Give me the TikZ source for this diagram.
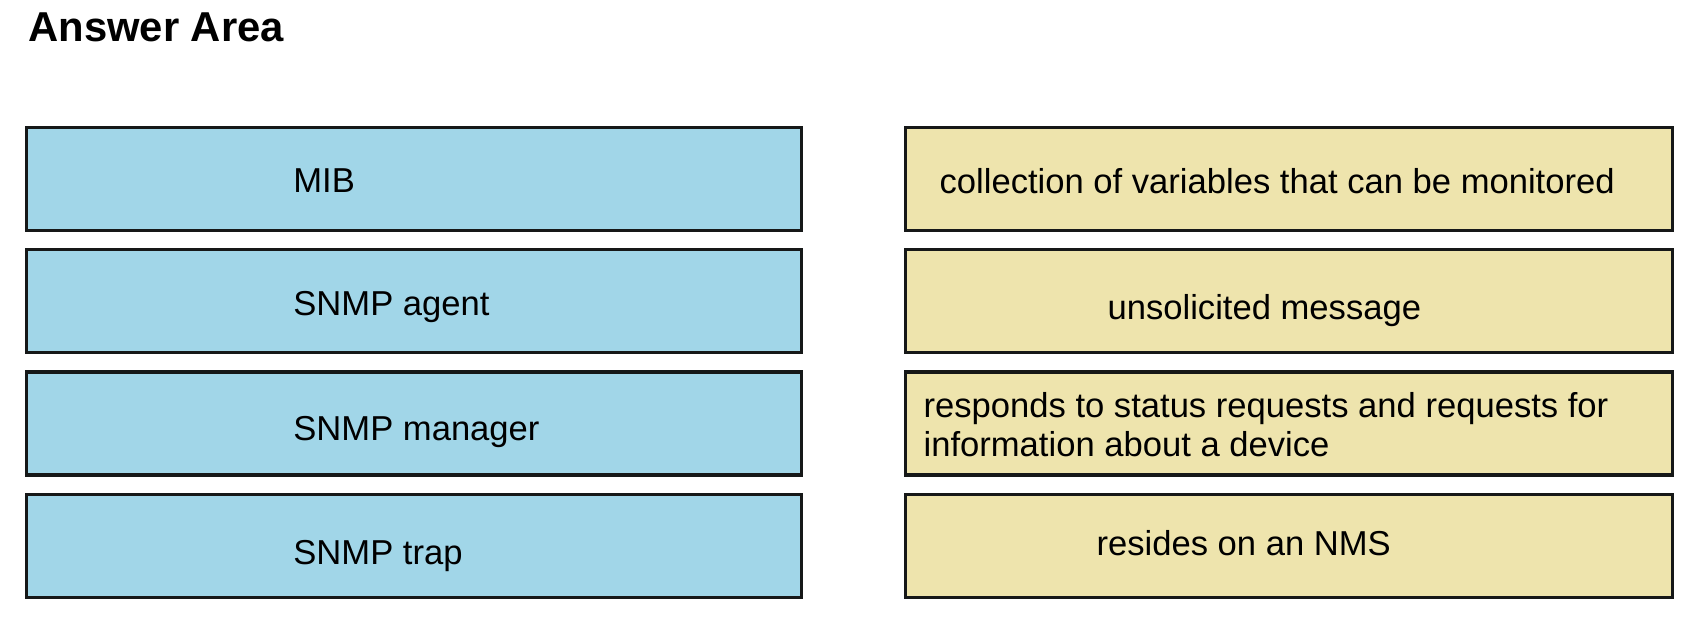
\documentclass[tikz,border=0pt]{standalone}
\usepackage{fontspec}
\setmainfont{Liberation Sans}
\usetikzlibrary{positioning}
\definecolor{termblue}{RGB}{161,214,232}
\definecolor{defyellow}{RGB}{238,228,173}
\definecolor{edge}{RGB}{22,24,24}

\begin{document}
\begin{tikzpicture}[
    node distance=8pt,
    term/.style={rectangle,draw=edge,line width=1.6pt,minimum width=387.5pt,minimum height=51.5pt,inner sep=0pt,fill=termblue},
    defn/.style={rectangle,draw=edge,line width=1.6pt,minimum width=383.5pt,minimum height=51.5pt,inner sep=0pt,fill=defyellow},
    txt/.style={inner sep=0pt,align=left,font=\fontsize{17.3pt}{19.5pt}\selectfont}
]
    \useasboundingbox (0,0) rectangle (845.5pt,-312pt);
    \node[anchor=base west,inner sep=0pt,font=\fontsize{20.9pt}{24pt}\selectfont\bfseries] (title) at (14pt,-21pt) {Answer Area};

    % terms
    \node[term,anchor=north west] (mib) at (12.5pt,-63pt) {};
    \node[term,below=of mib] (agent) {};
    \node[term,below=of agent] (manager) {};
    \node[term,below=of manager] (trap) {};

    % descriptions
    \node[defn,right=50.5pt of mib] (variables) {};
    \node[defn,right=50.5pt of agent] (unsolicited) {};
    \node[defn,right=50.5pt of manager] (responds) {};
    \node[defn,right=50.5pt of trap] (resides) {};

    \node[txt,right=134pt of mib.west,yshift=-1pt] (mibtxt) {MIB};
    \node[txt,right=134pt of agent.west,yshift=-3pt] (agenttxt) {SNMP agent};
    \node[txt,right=134pt of manager.west,yshift=-4.5pt] (managertxt) {SNMP manager};
    \node[txt,right=134pt of trap.west,yshift=-5pt] (traptxt) {SNMP trap};

    \node[txt,right=17.5pt of variables.west,yshift=-1pt] (variablestxt) {collection of variables that can be monitored};
    \node[txt,right=101.5pt of unsolicited.west,yshift=-4.5pt] (unsolicitedtxt) {unsolicited message};
    \node[txt,right=9.5pt of responds.west,yshift=-0.5pt] (respondstxt) {responds to status requests and requests for\\information about a device};
    \node[txt,right=96pt of resides.west,yshift=1.5pt] (residestxt) {resides on an NMS};
\end{tikzpicture}
\end{document}
